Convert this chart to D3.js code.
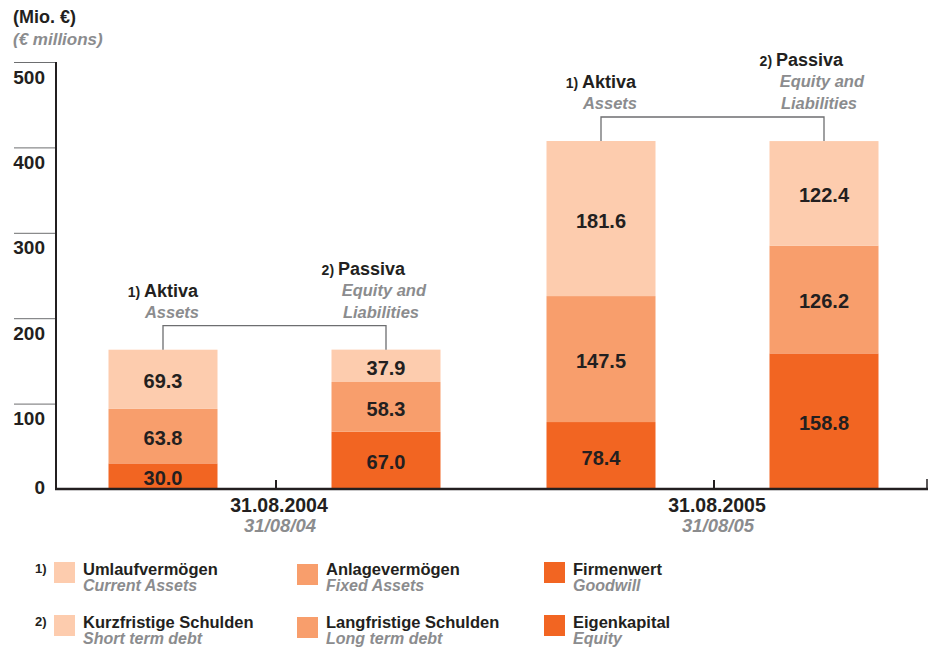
<!DOCTYPE html>
<html>
<head>
<meta charset="utf-8">
<script src="https://cdn.jsdelivr.net/npm/d3@7"></script>
<style>
    body { margin: 0; background: #fff; }
    svg { font-family: "Liberation Sans", Arial, sans-serif; }
</style>
</head>
<body>
<svg id="chart" width="933" height="648"></svg>
<script>
// chart values
var dates = ["31.08.2004", "31.08.2005"];
var datesEn = ["31/08/04", "31/08/05"];
var sides = ["Aktiva", "Passiva"];

// Aktiva: goodwill, fixed assets, current assets
var goodwill = [30.0, 78.4];
var fixedAssets = [63.8, 147.5];
var currentAssets = [69.3, 181.6];
// Passiva: equity, long term debt, short term debt
var equity = [67.0, 158.8];
var longDebt = [58.3, 126.2];
var shortDebt = [37.9, 122.4];

var yTicks = [0, 100, 200, 300, 400, 500];

var legendRow1 = [["Umlaufvermögen", "Current Assets"], ["Anlagevermögen", "Fixed Assets"], ["Firmenwert", "Goodwill"]];
var legendRow2 = [["Kurzfristige Schulden", "Short term debt"], ["Langfristige Schulden", "Long term debt"], ["Eigenkapital", "Equity"]];

var cfg = {
    light: "#fdccae",
    mid: "#f89e6c",
    dark: "#f26522",
    ink: "#231f20",
    grey: "#8b8c8e",
    barW: 109,
};
var shades = [cfg.dark, cfg.mid, cfg.light];

var svg = d3.select("#chart");

var y = d3.scaleLinear().domain([0, 500]).range([489, 62]);
var x0 = d3.scaleBand().domain(dates).range([57, 933]);
var x1 = d3.scalePoint().domain(sides).range([-113, 110]);

function center(date, side) {
    return x0(date) + x0.bandwidth() / 2 + x1(side);
}

// build stacked rows
var rows = [];
dates.forEach(function (d, i) {
    rows.push({ date: d, side: "Aktiva", values: [goodwill[i], fixedAssets[i], currentAssets[i]] });
    rows.push({ date: d, side: "Passiva", values: [equity[i], longDebt[i], shortDebt[i]] });
});
var stack = d3.stack()
    .keys([0, 1, 2])
    .value(function (r, k) { return r.values[k]; });
var series = stack(rows);

// bars
series.forEach(function (s, k) {
    var g = svg.append("g");
    g.selectAll("rect")
        .data(s)
        .join("rect")
        .attr("x", function (d) { return center(d.data.date, d.data.side) - cfg.barW / 2; })
        .attr("y", function (d) { return y(d[1]); })
        .attr("width", cfg.barW)
        .attr("height", function (d) { return y(d[0]) - y(d[1]); })
        .attr("fill", shades[k]);
    g.selectAll("text")
        .data(s)
        .join("text")
        .attr("x", function (d) { return center(d.data.date, d.data.side); })
        .attr("y", function (d) { return (y(d[0]) + y(d[1])) / 2 + 9; })
        .attr("text-anchor", "middle")
        .attr("font-size", 20)
        .attr("font-weight", "bold")
        .attr("fill", cfg.ink)
        .text(function (d) { return (d[1] - d[0]).toFixed(1); });
});

// y axis
var yAxis = d3.axisLeft(y)
    .tickValues(yTicks.slice(1))
    .tickSize(42)
    .tickPadding(-31)
    .tickFormat(d3.format("d"));
var ya = svg.append("g")
    .attr("transform", "translate(56,0)")
    .call(yAxis);
ya.select(".domain").remove();
ya.selectAll(".tick line").attr("stroke", "#6d6e70").attr("stroke-width", 1);
ya.selectAll(".tick text")
    .attr("dy", 21)
    .attr("font-size", 19)
    .attr("font-weight", "bold")
    .attr("font-family", "Liberation Sans, Arial, sans-serif")
    .attr("fill", cfg.ink);
svg.append("text")
    .attr("x", 45)
    .attr("y", y(0) + 5)
    .attr("text-anchor", "end")
    .attr("font-size", 19)
    .attr("font-weight", "bold")
    .attr("fill", cfg.ink)
    .text(yTicks[0]);

svg.append("line")
    .attr("x1", 56).attr("x2", 56)
    .attr("y1", y(500)).attr("y2", y(0) + 1)
    .attr("stroke", cfg.ink).attr("stroke-width", 2);

// x axis
svg.append("line")
    .attr("x1", 55).attr("x2", 928)
    .attr("y1", y(0)).attr("y2", y(0))
    .attr("stroke", cfg.ink).attr("stroke-width", 2.5);
svg.append("line")
    .attr("x1", 927).attr("x2", 927)
    .attr("y1", y(0) - 10).attr("y2", y(0))
    .attr("stroke", cfg.ink).attr("stroke-width", 1.5);

dates.forEach(function (d, i) {
    var cx = x0(d) + x0.bandwidth() / 2;
    svg.append("line")
        .attr("x1", cx).attr("x2", cx)
        .attr("y1", y(0) - 9).attr("y2", y(0))
        .attr("stroke", cfg.ink).attr("stroke-width", 2);
    svg.append("text")
        .attr("x", cx + 3).attr("y", 512)
        .attr("text-anchor", "middle")
        .attr("font-size", 19.5).attr("font-weight", "bold")
        .attr("fill", cfg.ink)
        .text(d);
    svg.append("text")
        .attr("x", cx + 4).attr("y", 532)
        .attr("text-anchor", "middle")
        .attr("font-size", 18.5).attr("font-weight", "bold").attr("font-style", "italic")
        .attr("fill", cfg.grey)
        .text(datesEn[i]);
});

// brackets with Aktiva / Passiva labels
dates.forEach(function (d, i) {
    var ca = center(d, "Aktiva");
    var cp = center(d, "Passiva");
    var topA = y(goodwill[i] + fixedAssets[i] + currentAssets[i]);
    var topP = y(equity[i] + longDebt[i] + shortDebt[i]);
    var by = Math.min(topA, topP) - 24;

    svg.append("path")
        .attr("d", "M" + ca + "," + topA + "V" + by + "H" + cp + "V" + topP)
        .attr("fill", "none")
        .attr("stroke", "#6d6e70")
        .attr("stroke-width", 1.3);

    var t = svg.append("text")
        .attr("x", ca + 35).attr("y", by - 29)
        .attr("text-anchor", "end")
        .attr("font-weight", "bold")
        .attr("fill", cfg.ink);
    t.append("tspan").attr("font-size", 14).text("1) ");
    t.append("tspan").attr("font-size", 18).text("Aktiva");
    svg.append("text")
        .attr("x", ca + 36).attr("y", by - 8)
        .attr("text-anchor", "end")
        .attr("font-size", 16.5).attr("font-weight", "bold").attr("font-style", "italic")
        .attr("fill", cfg.grey)
        .text("Assets");

    var p = svg.append("text")
        .attr("x", cp + 19).attr("y", by - 51)
        .attr("text-anchor", "end")
        .attr("font-weight", "bold")
        .attr("fill", cfg.ink);
    p.append("tspan").attr("font-size", 14).text("2) ");
    p.append("tspan").attr("font-size", 18).text("Passiva");
    svg.append("text")
        .attr("x", cp + 40).attr("y", by - 30)
        .attr("text-anchor", "end")
        .attr("font-size", 16.5).attr("font-weight", "bold").attr("font-style", "italic")
        .attr("fill", cfg.grey)
        .text("Equity and");
    svg.append("text")
        .attr("x", cp + 33).attr("y", by - 8)
        .attr("text-anchor", "end")
        .attr("font-size", 16.5).attr("font-weight", "bold").attr("font-style", "italic")
        .attr("fill", cfg.grey)
        .text("Liabilities");
});

// unit title
svg.append("text")
    .attr("x", 13).attr("y", 23)
    .attr("font-size", 18).attr("font-weight", "bold")
    .attr("fill", cfg.ink)
    .text("(Mio. €)");
svg.append("text")
    .attr("x", 13).attr("y", 45)
    .attr("font-size", 17).attr("font-weight", "bold").attr("font-style", "italic")
    .attr("fill", cfg.grey)
    .text("(€ millions)");

// legend
var legendX = [54, 297, 544];
var legendY = [562, 615];
var legendNum = ["1)", "2)"];
[legendRow1, legendRow2].forEach(function (row, r) {
    svg.append("text")
        .attr("x", 35).attr("y", legendY[r] + 11)
        .attr("font-size", 13).attr("font-weight", "bold")
        .attr("fill", cfg.ink)
        .text(legendNum[r]);
    row.forEach(function (item, k) {
        var lx = legendX[k];
        var ly = legendY[r];
        svg.append("rect")
            .attr("x", lx).attr("y", ly + (k === 1 ? 2 : 0))
            .attr("width", 21).attr("height", 21)
            .attr("fill", shades[2 - k]);
        svg.append("text")
            .attr("x", lx + 29).attr("y", ly + 13)
            .attr("font-size", 16.5).attr("font-weight", "bold")
            .attr("fill", cfg.ink)
            .text(item[0]);
        svg.append("text")
            .attr("x", lx + 29).attr("y", ly + 29)
            .attr("font-size", 16).attr("font-weight", "bold").attr("font-style", "italic")
            .attr("fill", cfg.grey)
            .text(item[1]);
    });
});
</script>
</body>
</html>
